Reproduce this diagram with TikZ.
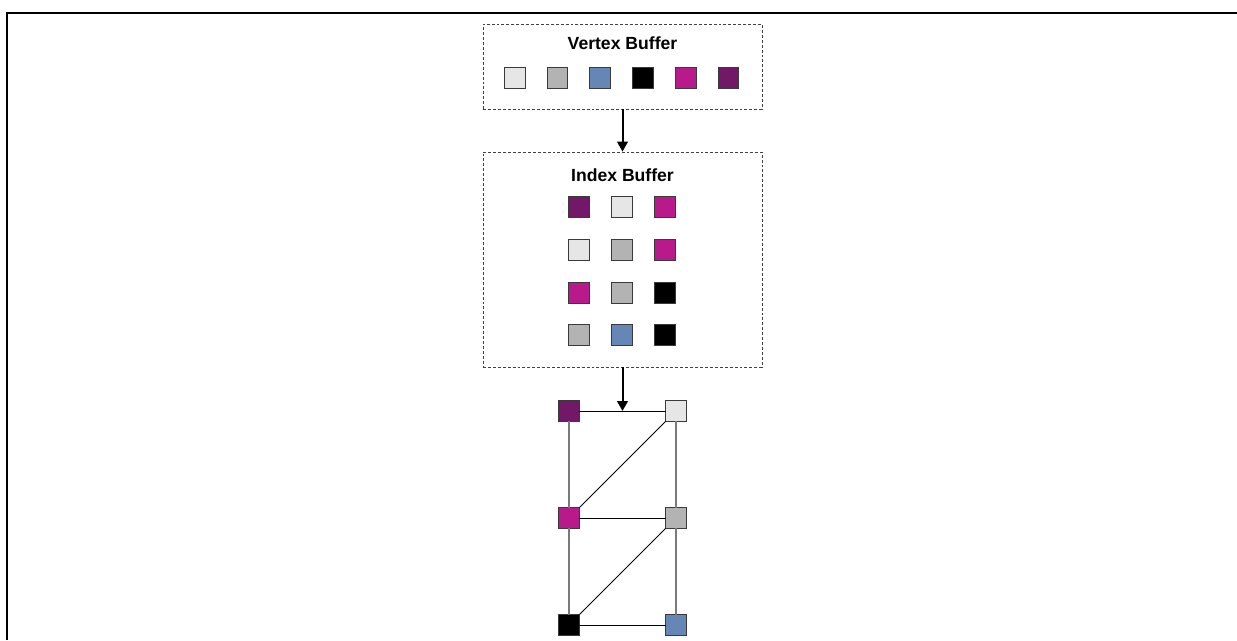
\documentclass[tikz,border=0pt]{standalone}
\usepackage{fontspec}
\setmainfont{Liberation Sans}
\usetikzlibrary{arrows.meta}

\definecolor{vlight}{HTML}{E6E6E6}
\definecolor{vgray}{HTML}{B3B3B3}
\definecolor{vblue}{HTML}{6686B6}
\definecolor{vmagenta}{HTML}{B8198B}
\definecolor{vpurple}{HTML}{731768}
\definecolor{vborder}{HTML}{3A3A3A}
\definecolor{edgegray}{HTML}{7A7A7A}

\begin{document}
\begin{tikzpicture}[x=0.75pt, y=-0.75pt,
  vtx/.style={draw=vborder, line width=0.75pt, minimum size=15.6pt, inner sep=0pt, outer sep=0pt},
  bufbox/.style={draw=black!75, dash pattern=on 2.2pt off 1.5pt, line width=0.6pt, inner sep=0pt},
  title/.style={font=\bfseries\fontsize{13.2}{15}\selectfont, anchor=base, inner sep=0pt},
  flow/.style={line width=1.5pt, -{Triangle[width=8pt,length=7.5pt]}},
  rail/.style={draw=edgegray, line width=1.6pt},
  rung/.style={draw=black, line width=0.75pt},
  diag/.style={draw=black, line width=0.6pt}]

\useasboundingbox (0,0) rectangle (1237,640);

% outer frame (open to the right and bottom)
\draw[line width=1.7pt] (7,640) -- (7,13) -- (1237,13);

% buffer frames
\node[bufbox, minimum width=209.25pt, minimum height=63.75pt] (vb) at (622.5,66.5) {};
\node[bufbox, minimum width=209.25pt, minimum height=161.25pt] (ib) at (622.5,259.5) {};

\node[title] (vbt) at (622.5,49) {Vertex Buffer};
\node[title] (ibt) at (622.5,181) {Index Buffer};

% vertex buffer entries
\node[vtx, fill=vlight]    (v1) at (515,78) {};
\node[vtx, fill=vgray]     (v2) at (557.5,78) {};
\node[vtx, fill=vblue]     (v3) at (600,78) {};
\node[vtx, fill=black]     (v4) at (643,78) {};
\node[vtx, fill=vmagenta]  (v5) at (686,78) {};
\node[vtx, fill=vpurple]   (v6) at (728.5,78) {};

% index buffer entries, one triangle per row
\node[vtx, fill=vpurple]   (i11) at (579,207) {};
\node[vtx, fill=vlight]    (i12) at (622,207) {};
\node[vtx, fill=vmagenta]  (i13) at (665,207) {};
\node[vtx, fill=vlight]    (i21) at (579,250) {};
\node[vtx, fill=vgray]     (i22) at (622,250) {};
\node[vtx, fill=vmagenta]  (i23) at (665,250) {};
\node[vtx, fill=vmagenta]  (i31) at (579,293) {};
\node[vtx, fill=vgray]     (i32) at (622,293) {};
\node[vtx, fill=black]     (i33) at (665,293) {};
\node[vtx, fill=vgray]     (i41) at (579,335) {};
\node[vtx, fill=vblue]     (i42) at (622,335) {};
\node[vtx, fill=black]     (i43) at (665,335) {};

% resulting mesh
\node[vtx, fill=vpurple]   (p1) at (569,411) {};
\node[vtx, fill=vlight]    (p2) at (676,411) {};
\node[vtx, fill=vmagenta]  (p3) at (569,518) {};
\node[vtx, fill=vgray]     (p4) at (676,518) {};
\node[vtx, fill=black]     (p5) at (569,625) {};
\node[vtx, fill=vblue]     (p6) at (676,625) {};

\draw[rail] (p1) -- (p3);
\draw[rail] (p3) -- (p5);
\draw[rail] (p2) -- (p4);
\draw[rail] (p4) -- (p6);
\draw[rung] (p1) -- (p2);
\draw[rung] (p3) -- (p4);
\draw[rung] (p5) -- (p6);
\draw[diag] (p2) -- (p3);
\draw[diag] (p4) -- (p5);

% data flow
\draw[flow] (vb.south) -- (ib.north);
\coordinate (meshtop) at (ib.south |- p1.center);
\draw[flow] (ib.south) -- (meshtop);

\end{tikzpicture}
\end{document}
